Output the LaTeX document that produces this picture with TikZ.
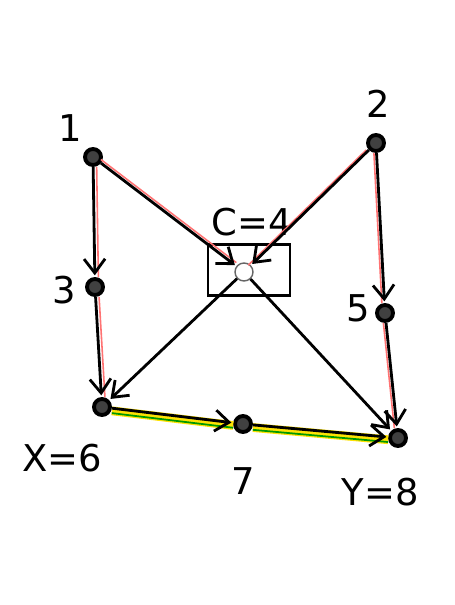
\documentclass[tikz,border=0pt]{standalone}
\usepackage{fontspec}
\setmainfont{DejaVu Sans}
\usetikzlibrary{arrows.meta}
\begin{document}
\begin{tikzpicture}[x=0.02cm,y=-0.02cm,
  dot/.style={circle,draw=black,fill=black!75,line width=2.2pt,inner sep=0pt,minimum size=0.32cm},
  wdot/.style={circle,draw=black!60,fill=white,line width=0.8pt,inner sep=0pt,minimum size=0.36cm},
  lbl/.style={font=\fontsize{21}{24}\selectfont},
  arr/.style={line width=1.6pt,black,-{Straight Barb[length=8pt,width=12pt,line width=1.6pt]},shorten >=1pt},
  redl/.style={line width=0.9pt,red!55!white},
  hl/.style={line width=5pt,yellow!85!orange},
  grl/.style={line width=1pt,green!60!black}]
\fill[white] (0,0) rectangle (454,605);
\useasboundingbox (0,0) rectangle (454,605);
% nodes
\node[dot] (n1) at (93,157) {};
\node[dot] (n2) at (376,143) {};
\node[dot] (n3) at (95,287) {};
\node[draw,line width=1.6pt,minimum width=1.64cm,minimum height=1.02cm,inner sep=0pt] (box) at (249,270) {};
\node[wdot] (n4) at (244,272) {};
\node[dot] (n5) at (385,313) {};
\node[dot] (n6) at (102,407) {};
\node[dot] (n7) at (243,424) {};
\node[dot] (n8) at (398,438) {};
% labels
\node[lbl] (l1) at (70,128) {1};
\node[lbl] (l2) at (378,104) {2};
\node[lbl] (l3) at (64,290) {3};
\node[lbl] (l4) at (252,222) {C=4};
\node[lbl] (l5) at (358,308) {5};
\node[lbl] (l6) at (62,458) {X=6};
\node[lbl] (l7) at (243,481) {7};
\node[lbl] (l8) at (380,492) {Y=8};
% highlights
\draw[hl,transform canvas={yshift=-1.5pt}] (n6) -- (n7) -- (n8);
\draw[grl,transform canvas={yshift=-2.8pt}] (n6) -- (n7) -- (n8);
\draw[redl,transform canvas={xshift=2pt}] (n1) -- (n3) -- (n6);
\draw[redl,transform canvas={yshift=2pt}] (n1) -- (n4);
\draw[redl,transform canvas={xshift=-1.5pt}] (n2) -- (n4);
\draw[redl,transform canvas={xshift=-1.5pt}] (n2) -- (n5) -- (n8);
% edges
\draw[arr] (n1) -- (n3);
\draw[arr] (n3) -- (n6);
\draw[arr] (n1) -- (n4);
\draw[arr] (n2) -- (n4);
\draw[arr] (n2) -- (n5);
\draw[arr] (n5) -- (n8);
\draw[arr] (n4) -- (n6);
\draw[arr] (n4) -- (n8);
\draw[arr] (n6) -- (n7);
\draw[arr] (n7) -- (n8);
\end{tikzpicture}
\end{document}
